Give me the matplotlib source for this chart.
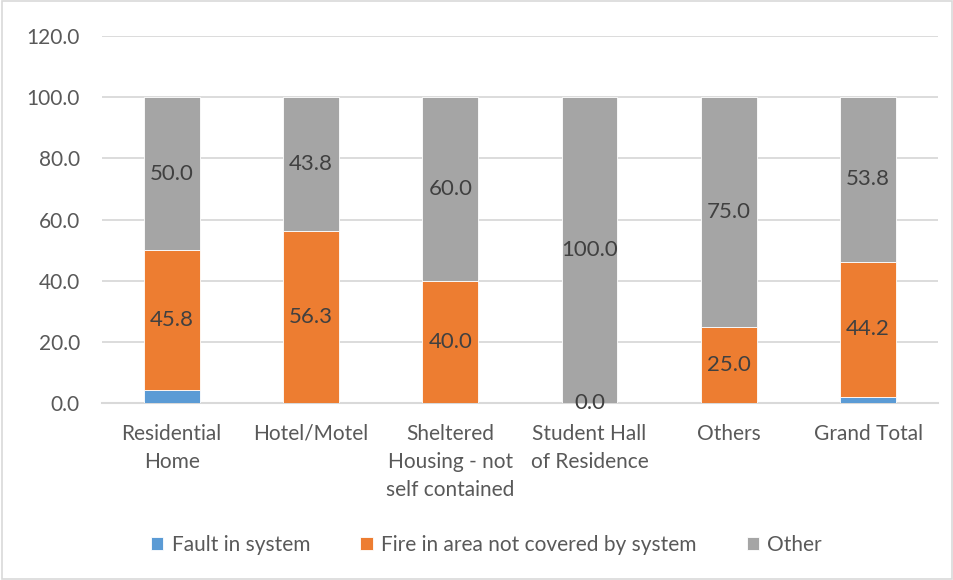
import matplotlib
matplotlib.use("Agg")
import matplotlib.pyplot as plt
import numpy as np

categories = ["Residential\nHome", "Hotel/Motel", "Sheltered\nHousing - not\nself contained",
              "Student Hall\nof Residence", "Others", "Grand Total"]
fault = [4.2, 0.0, 0.0, 0.0, 0.0, 2.0]
fire = [45.8, 56.3, 40.0, 0.0, 25.0, 44.2]
other = [50.0, 43.8, 60.0, 100.0, 75.0, 53.8]
yticks = [0, 20, 40, 60, 80, 100, 120]

plt.rcParams['font.family'] = ['Lato', 'DejaVu Sans']

fig = plt.figure(figsize=(9.54, 5.8), dpi=100)
ax = fig.add_axes([0.107, 0.305, 0.876, 0.633])

x = np.arange(len(categories))
w = 0.4
c_fault, c_fire, c_other = "#5b9bd5", "#ed7d31", "#a5a5a5"
fault_a = np.array(fault)
fire_a = np.array(fire)
other_a = np.array(other)
ax.bar(x, fault_a, w, color=c_fault, edgecolor="white", linewidth=0.6, label="Fault in system", zorder=3)
b2 = ax.bar(x, fire_a, w, bottom=fault_a, color=c_fire, edgecolor="white", linewidth=0.6,
            label="Fire in area not covered by system", zorder=3)
b3 = ax.bar(x, other_a, w, bottom=fault_a + fire_a, color=c_other, edgecolor="white", linewidth=0.6,
            label="Other", zorder=3)

lab_col = "#404040"
for i in range(len(x)):
    ax.text(x[i], fault_a[i] + fire_a[i] / 2, f"{fire_a[i]:.1f}", ha="center", va="center",
            fontsize=16, color=lab_col, zorder=5)
    ax.text(x[i], fault_a[i] + fire_a[i] + other_a[i] / 2, f"{other_a[i]:.1f}", ha="center",
            va="center", fontsize=16, color=lab_col, zorder=5)

ax.set_xlim(-0.5, len(categories) - 0.5)
ax.set_ylim(0, 120)
ax.set_yticks(yticks)
ax.set_yticklabels([f"{v:.1f}" for v in yticks], fontsize=15, color="#595959")
ax.set_xticks(x)
ax.set_xticklabels(categories, fontsize=15, color="#595959", linespacing=1.5)
ax.tick_params(axis="both", length=0)
ax.tick_params(axis="y", pad=16)
ax.tick_params(axis="x", pad=15)
for s in ["top", "right", "left"]:
    ax.spines[s].set_visible(False)
ax.spines["bottom"].set_color("#d9d9d9")
ax.spines["bottom"].set_linewidth(1.5)
ax.grid(axis="y", color="#d9d9d9", linewidth=1.3, zorder=0)
ax.set_axisbelow(True)

fig.legend(handles=[b for b in ax.containers], labels=["Fault in system",
           "Fire in area not covered by system", "Other"],
           loc="center", bbox_to_anchor=(0.51, 0.06), ncol=3, frameon=False,
           fontsize=15, labelcolor="#595959", handlelength=0.6, handleheight=0.6,
           handletextpad=0.4, columnspacing=2.4)

fig.patches.append(plt.Rectangle((0.002, 0.002), 0.996, 0.996, transform=fig.transFigure,
                                 fill=False, edgecolor="#d9d9d9", linewidth=1.2))
fig.savefig("out.png", dpi=100, facecolor="white")
